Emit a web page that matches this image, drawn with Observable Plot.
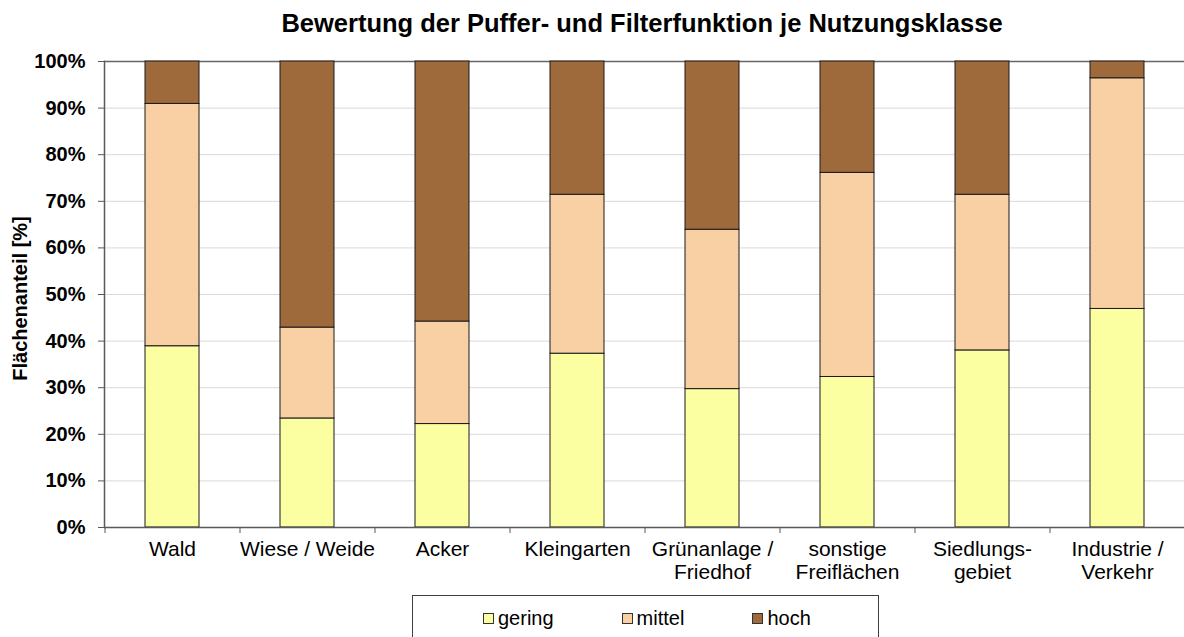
<!DOCTYPE html>
<html>
<head>
<meta charset="utf-8">
<script src="https://cdn.jsdelivr.net/npm/d3@7"></script>
<script src="https://cdn.jsdelivr.net/npm/@observablehq/plot@0.6"></script>
<style>
  html, body { margin: 0; padding: 0; background: #fff; }
  #wrap { position: relative; width: 1184px; height: 637px; overflow: hidden; font-family: "Liberation Sans", Arial, sans-serif; }
  #title { height: 45px; line-height: 46px; text-align: center; font-weight: bold; font-size: 25.5px; color: #000; padding-left: 100px; box-sizing: border-box; white-space: nowrap; }
  #chart svg { display: block; }
  #legend { position: absolute; left: 412px; top: 595px; width: 467px; height: 60px; border: 1px solid #404040; box-sizing: border-box; display: flex; align-items: flex-start; padding-left: 70px; padding-top: 11px; gap: 68px; font-size: 20px; color: #000; }
  .item { display: flex; align-items: center; line-height: 22px; }
  .sw { width: 9px; height: 9px; border: 1px solid #333; margin-right: 4px; }
</style>
</head>
<body>
<div id="wrap">
  <div id="title"></div>
  <div id="chart"></div>
  <div id="legend"></div>
</div>
<script>
const titleText = "Bewertung der Puffer- und Filterfunktion je Nutzungsklasse";
const yLabel = "Flächenanteil [%]";
const categories = ["Wald", "Wiese / Weide", "Acker", "Kleingarten", "Grünanlage / Friedhof", "sonstige Freiflächen", "Siedlungs-gebiet", "Industrie / Verkehr"];
const tickLabels = ["Wald", "Wiese / Weide", "Acker", "Kleingarten", "Grünanlage /\nFriedhof", "sonstige\nFreiflächen", "Siedlungs-\ngebiet", "Industrie /\nVerkehr"];
const levels = ["gering", "mittel", "hoch"];
const colors = ["#FBFFA1", "#F8D0A4", "#9E6A3C"];
const gering = [38.9, 23.4, 22.2, 37.3, 29.7, 32.3, 38.0, 46.9];
const mittel = [52.0, 19.5, 22.0, 34.1, 34.2, 43.8, 33.4, 49.5];
const hoch   = [9.1, 57.1, 55.8, 28.6, 36.1, 23.9, 28.6, 3.6];
const yTicks = [0, 10, 20, 30, 40, 50, 60, 70, 80, 90, 100];

const series = {gering, mittel, hoch};
const data = [];
categories.forEach((c, i) => levels.forEach(l => data.push({cat: c, level: l, value: series[l][i]})));
const labelOf = new Map(categories.map((c, i) => [c, tickLabels[i]]));

document.getElementById("title").textContent = titleText;

const chart = Plot.plot({
  width: 1184,
  height: 544,
  marginTop: 16,
  marginLeft: 104,
  marginRight: 0,
  marginBottom: 62,
  style: {fontFamily: "Liberation Sans, Arial, sans-serif", color: "#000", background: "#fff"},
  x: {domain: categories, paddingInner: 0.6, paddingOuter: 0.3, label: null},
  y: {domain: [0, 100], label: null},
  color: {domain: levels, range: colors},
  marks: [
    Plot.gridY(yTicks, {stroke: "#d9d9d9", strokeOpacity: 1}),
    Plot.ruleY([100], {stroke: "#666", strokeWidth: 1.5}),
    Plot.barY(data, {x: "cat", y: "value", fill: "level", stroke: "#1a1a1a", strokeWidth: 1}),
    Plot.ruleY([0], {stroke: "#595959", strokeWidth: 1.5}),
    Plot.frame({anchor: "left", stroke: "#595959", strokeWidth: 1.5}),
    Plot.axisY({ticks: yTicks, tickFormat: d => d + "%", tickSize: 6, tickPadding: 13, fontSize: 20, fontWeight: "bold", stroke: "#595959", label: null}),
    Plot.axisX({tickSize: 0, tickPadding: 12, fontSize: 21, lineHeight: 1.1, tickFormat: d => labelOf.get(d), label: null}),
    Plot.axisX({tickSize: 6, dx: -67.5, tickFormat: () => "", stroke: "#595959", label: null}),
    Plot.text([yLabel], {frameAnchor: "left", textAnchor: "middle", rotate: -90, dx: -84, dy: 4, fontSize: 20, fontWeight: "bold", fill: "#000"})
  ]
});
document.getElementById("chart").appendChild(chart);

const legend = document.getElementById("legend");
levels.forEach((l, i) => {
  const it = document.createElement("div");
  it.className = "item";
  const sw = document.createElement("span");
  sw.className = "sw";
  sw.style.background = colors[i];
  const tx = document.createElement("span");
  tx.textContent = l;
  it.appendChild(sw); it.appendChild(tx);
  legend.appendChild(it);
});
</script>
</body>
</html>
